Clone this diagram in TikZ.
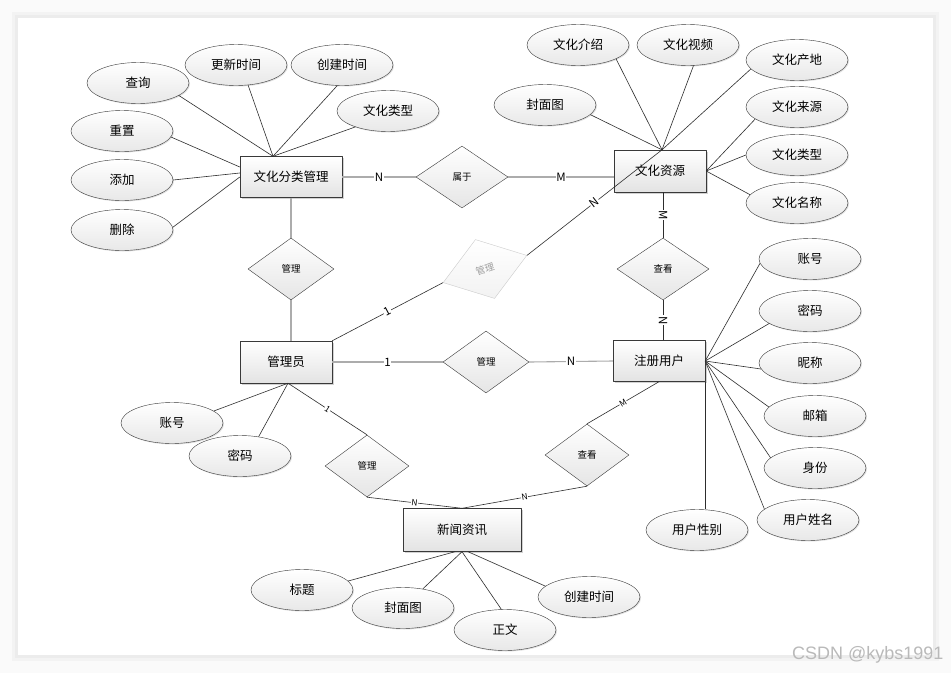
\documentclass[tikz,border=0pt]{standalone}
\usepackage{fontspec}
\setmainfont{Noto Sans CJK SC}
\newfontfamily\wmfont{Liberation Sans}
\usetikzlibrary{shapes.geometric,shadows}

\begin{document}
\begin{tikzpicture}[x=1pt, y=-1pt, line join=round,
    entity/.style={rectangle, draw=gray!45!black, minimum width=92pt, minimum height=42pt,
        top color=white, bottom color=gray!22, inner sep=0pt,
        drop shadow={shadow xshift=1.5pt, shadow yshift=-1.5pt, fill=gray, opacity=0.35},
        font=\fontsize{12.5}{13}\selectfont},
    attr/.style={ellipse, draw=gray!45!black, minimum width=102pt, minimum height=41pt,
        top color=white, bottom color=gray!18, inner sep=0pt,
        drop shadow={shadow xshift=1pt, shadow yshift=-1pt, fill=gray, opacity=0.25},
        font=\fontsize{12.5}{13}\selectfont},
    rel/.style={diamond, draw=gray!45!black, minimum width=86pt, minimum height=62pt,
        top color=white, bottom color=gray!20, inner sep=0pt,
        font=\fontsize{9.5}{10}\selectfont},
    card/.style={fill=white, inner sep=0.8pt, font=\fontsize{11.5}{12}\selectfont},
    smallcard/.style={fill=white, inner sep=0.5pt, font=\fontsize{8.5}{9}\selectfont},
    link/.style={draw=gray!65, line width=1.1pt},
    prop/.style={draw=gray!35!black, line width=0.6pt}]

    % page
    \useasboundingbox (0,0) rectangle (951,673);
    \fill[gray!4] (0,0) rectangle (951,673);
    \fill[gray, opacity=0.05] (12,12) rectangle (939,661);
    \fill[gray, opacity=0.06] (15,15) rectangle (936,658);
    \fill[white] (18,18) rectangle (933,655);

    % entities
    \node[entity, minimum width=102pt, minimum height=41pt] (fl) at (291,177) {文化分类管理};
    \node[entity] (zy) at (660,171) {文化资源};
    \node[entity] (gly) at (286,362) {管理员};
    \node[entity, minimum height=41pt] (yh) at (659,361) {注册用户};
    \node[entity, minimum width=118pt, minimum height=43pt] (xw) at (462,530) {新闻资讯};

    % relations
    \node[rel, minimum width=92pt] (sy) at (462,177) {属于};
    \node[rel] (gl1) at (291,269) {管理};
    \node[rel, rotate=18, minimum width=88pt, draw=gray!40, top color=white, bottom color=gray!10,
        text=gray!75] (gl2) at (485,269) {管理};
    \node[rel] (gl3) at (486,362) {管理};
    \node[rel, minimum width=92pt] (ck1) at (663,269) {查看};
    \node[rel, minimum width=84pt] (gl4) at (367,466) {管理};
    \node[rel, minimum width=84pt] (ck2) at (587,455) {查看};

    % attributes of 文化分类管理
    \node[attr] (fl1) at (138,83) {查询};
    \node[attr] (fl2) at (236,65) {更新时间};
    \node[attr] (fl3) at (342,65) {创建时间};
    \node[attr] (fl4) at (388,111) {文化类型};
    \node[attr] (fl5) at (122,131) {重置};
    \node[attr] (fl6) at (122,180) {添加};
    \node[attr] (fl7) at (122,230) {删除};

    % attributes of 文化资源
    \node[attr] (zy1) at (578,45) {文化介绍};
    \node[attr] (zy2) at (688,45) {文化视频};
    \node[attr] (zy3) at (797,60) {文化产地};
    \node[attr] (zy4) at (545,105) {封面图};
    \node[attr] (zy5) at (797,107) {文化来源};
    \node[attr] (zy6) at (797,155) {文化类型};
    \node[attr] (zy7) at (797,203) {文化名称};

    % attributes of 注册用户
    \node[attr] (yh1) at (810,259) {账号};
    \node[attr] (yh2) at (810,311) {密码};
    \node[attr] (yh3) at (810,363) {昵称};
    \node[attr] (yh4) at (815,416) {邮箱};
    \node[attr] (yh5) at (815,468) {身份};
    \node[attr] (yh6) at (808,520) {用户姓名};
    \node[attr] (yh7) at (697,530) {用户性别};

    % attributes of 管理员
    \node[attr] (gly1) at (172,423) {账号};
    \node[attr] (gly2) at (240,456) {密码};

    % attributes of 新闻资讯
    \node[attr] (xw1) at (302,590) {标题};
    \node[attr] (xw2) at (403,608) {封面图};
    \node[attr] (xw3) at (505,630) {正文};
    \node[attr] (xw4) at (589,597) {创建时间};

    % meeting points
    \coordinate (flt) at ([xshift=-18pt]fl.north);
    \coordinate (zyt) at ([xshift=2pt]zy.north);
    \coordinate (glyb) at ([xshift=2pt]gly.south);

    \draw[prop] (fl1.-17) -- (flt);
    \draw[prop] (fl2.-59) -- (flt);
    \draw[prop] (fl3.-103) -- (flt);
    \draw[prop] (fl4.206) -- (flt);
    \draw[prop] (fl5.-7) -- ([yshift=10pt]fl.west);
    \draw[prop] (fl6.east) -- ([yshift=4pt]fl.west);
    \draw[prop] (fl7.3) -- (fl.west);

    \draw[prop] (zy1.-20) -- (zyt);
    \draw[prop] (zy2.-75) -- (zyt);
    \draw[prop] (zy3.191) -- (zyt);
    \draw[prop] (zy4.-12) -- (zyt);
    \draw[prop] (zy5.196) -- (zy.east);
    \draw[prop] (zy6.west) -- (zy.east);
    \draw[prop] (zy7.170) -- (zy.east);

    \draw[prop] (yh1.185) -- (yh.east);
    \draw[prop] (yh2.197) -- (yh.east);
    \draw[prop] (yh3.187) -- (yh.east);
    \draw[prop] (yh4.169) -- (yh.east);
    \draw[prop] (yh5.167) -- (yh.east);
    \draw[prop] (yh6.166) -- (yh.east);
    \draw[prop] (yh.south east) -- (yh.south east |- yh7.north);

    \draw[prop] (gly1.16) -- (glyb);
    \draw[prop] (gly2.46) -- (glyb);

    \draw[prop] (xw1.11) -- ([xshift=-7pt]xw.south);
    \draw[prop] (xw2.44) -- (xw.south);
    \draw[prop] (xw3.100) -- (xw.south);
    \draw[prop] (xw4.166) -- ([xshift=6pt]xw.south);

    % relationships
    \draw[link] (fl.east) -- node[card] {N} (sy.west);
    \draw[link] (sy.east) -- node[card] {M} (sy.east -| zy.west);
    \draw[link] (fl.south) -- (gl1.north);
    \draw[link] (gl1.south) -- (gl1.south |- gly.north);
    \draw[prop] (gly.north east) -- node[card, sloped] {1} (gl2.west);
    \draw[prop] (gl2.east) -- node[card, sloped] {N} (zyt);
    \draw[prop] (ck1.north |- zy.south) -- node[card, rotate=-90] {M} (ck1.north);
    \draw[prop] (ck1.south) -- node[card, rotate=-90] {N} (ck1.south |- yh.north);
    \draw[link] (gly.east) -- node[card] {1} (gl3.west);
    \draw[link] (gl3.east) -- node[card] {N} (yh.west);
    \draw[prop] (glyb) -- node[smallcard, sloped] {1} (gl4.north);
    \draw[prop] (gl4.south) -- node[smallcard, sloped] {N} (xw.north);
    \draw[prop] (yh.south) -- node[smallcard, sloped] {M} (ck2.north);
    \draw[prop] (ck2.south) -- node[smallcard, sloped] {N} (xw.north);

    % watermark
    \node[anchor=east, text=gray!55, font=\wmfont\fontsize{18}{18}\selectfont] (wm) at (947,655) {CSDN @kybs1991};
\end{tikzpicture}
\end{document}
